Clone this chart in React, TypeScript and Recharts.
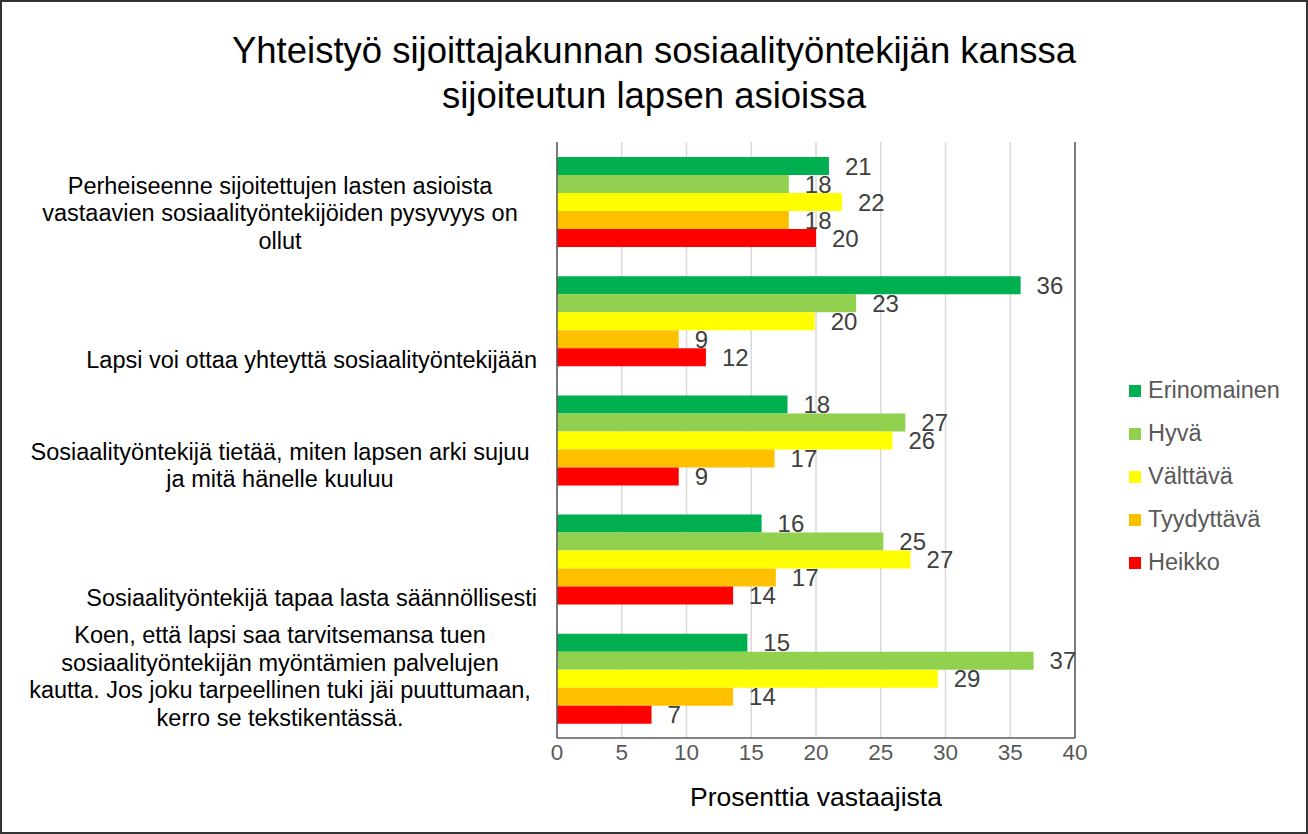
import React from 'react';
import { BarChart, Bar, XAxis, YAxis, CartesianGrid, LabelList, ReferenceLine } from 'recharts';

const categories = [
  'Perheiseenne sijoitettujen lasten asioista vastaavien sosiaalityöntekijöiden pysyvyys on ollut',
  'Lapsi voi ottaa yhteyttä sosiaalityöntekijään',
  'Sosiaalityöntekijä tietää, miten lapsen arki sujuu ja mitä hänelle kuuluu',
  'Sosiaalityöntekijä tapaa lasta säännöllisesti',
  'Koen, että lapsi saa tarvitsemansa tuen sosiaalityöntekijän myöntämien palvelujen kautta. Jos joku tarpeellinen tuki jäi puuttumaan, kerro se tekstikentässä.',
];

// how the category labels wrap in the picture
const categoryLines = [
  ['Perheiseenne sijoitettujen lasten asioista', 'vastaavien sosiaalityöntekijöiden pysyvyys on', 'ollut'],
  ['Lapsi voi ottaa yhteyttä sosiaalityöntekijään'],
  ['Sosiaalityöntekijä tietää, miten lapsen arki sujuu', 'ja mitä hänelle kuuluu'],
  ['Sosiaalityöntekijä tapaa lasta säännöllisesti'],
  ['Koen, että lapsi saa tarvitsemansa tuen', 'sosiaalityöntekijän myöntämien palvelujen', 'kautta. Jos joku tarpeellinen tuki jäi puuttumaan,', 'kerro se tekstikentässä.'],
];

const seriesNames = ['Erinomainen', 'Hyvä', 'Välttävä', 'Tyydyttävä', 'Heikko'];
const seriesColors = ['#00B050', '#92D050', '#FFFF00', '#FFC000', '#FF0000'];

const erinomainen = [21.0, 35.8, 17.8, 15.8, 14.7];
const hyva = [17.9, 23.1, 26.9, 25.2, 36.8];
const valttava = [22.0, 19.9, 25.9, 27.3, 29.4];
const tyydyttava = [17.9, 9.4, 16.8, 16.9, 13.6];
const heikko = [20.0, 11.5, 9.4, 13.6, 7.3];

const xTicks = [0, 5, 10, 15, 20, 25, 30, 35, 40];

const seriesValues = [erinomainen, hyva, valttava, tyydyttava, heikko];

const data = categories.map((name, i) => {
  const row: Record<string, string | number> = { name };
  seriesNames.forEach((s, j) => {
    row[s] = seriesValues[j][i];
  });
  return row;
});

const FONT = '"Liberation Sans", Arial, sans-serif';

function CategoryTick(props: any) {
  const { y, payload } = props;
  const idx = categories.indexOf(payload.value);
  const lines = categoryLines[idx] || [payload.value];
  const lineH = 27.5;
  const lastY = y + 39;
  const single = lines.length === 1;
  return (
    <g>
      {lines.map((l, i) => (
        <text
          key={i}
          x={single ? 537 : 280}
          y={lastY - (lines.length - 1 - i) * lineH}
          dy="0.35em"
          textAnchor={single ? 'end' : 'middle'}
          fontSize={23.5}
          fill="#000"
        >
          {l}
        </text>
      ))}
    </g>
  );
}

export default function App() {
  return (
    <div
      style={{
        position: 'absolute',
        left: 0,
        top: 0,
        width: 1308,
        height: 834,
        boxSizing: 'border-box',
        border: '2px solid #333',
        background: '#fff',
        fontFamily: FONT,
      }}
    >
      <div
        style={{
          position: 'absolute',
          left: 0,
          top: 26,
          width: 1304,
          textAlign: 'center',
          fontSize: 36.5,
          lineHeight: '45px',
          color: '#000',
        }}
      >
        Yhteistyö sijoittajakunnan sosiaalityöntekijän kanssa
        <br />
        sijoiteutun lapsen asioissa
      </div>

      <div style={{ position: 'absolute', left: -2, top: -2 }}>
        <BarChart
          width={1308}
          height={834}
          data={data}
          layout="vertical"
          margin={{ top: 142, right: 233, bottom: 26, left: 0 }}
          barSize={18}
          barGap={0}
        >
          <CartesianGrid horizontal={false} stroke="#d9d9d9" strokeWidth={1.5} />
          <XAxis
            type="number"
            domain={[0, 40]}
            ticks={xTicks}
            tickLine={false}
            axisLine={{ stroke: '#595959', strokeWidth: 1.5 }}
            tick={{ fill: '#595959', fontSize: 22.5 }}
            tickMargin={0}
            height={70}
            label={{ value: 'Prosenttia vastaajista', position: 'insideBottom', offset: 2, fill: '#000', fontSize: 26.5 }}
          />
          <XAxis
            xAxisId="top"
            orientation="top"
            type="number"
            domain={[0, 40]}
            height={0}
            tick={false}
            tickLine={false}
            axisLine={{ stroke: '#7f7f7f', strokeWidth: 1.5 }}
          />
          <YAxis
            type="category"
            dataKey="name"
            width={557}
            tickLine={false}
            axisLine={{ stroke: '#595959', strokeWidth: 1.5 }}
            tick={<CategoryTick />}
            interval={0}
          />
          <ReferenceLine x={40} stroke="#595959" strokeWidth={1.5} />
          {seriesNames.map((s, j) => (
            <Bar key={s} dataKey={s} fill={seriesColors[j]} isAnimationActive={false}>
              <LabelList
                dataKey={s}
                position="right"
                offset={16}
                fill="#404040"
                fontSize={24}
                formatter={(v: any) => Math.round(Number(v))}
              />
            </Bar>
          ))}
        </BarChart>
      </div>

      <div style={{ position: 'absolute', left: 1127, top: 367 }}>
        {seriesNames.map((s, j) => (
          <div key={s} style={{ display: 'flex', alignItems: 'center', height: 43 }}>
            <div style={{ width: 12, height: 12, background: seriesColors[j], marginRight: 7 }} />
            <span style={{ fontSize: 23.5, color: '#595959' }}>{s}</span>
          </div>
        ))}
      </div>
    </div>
  );
}
